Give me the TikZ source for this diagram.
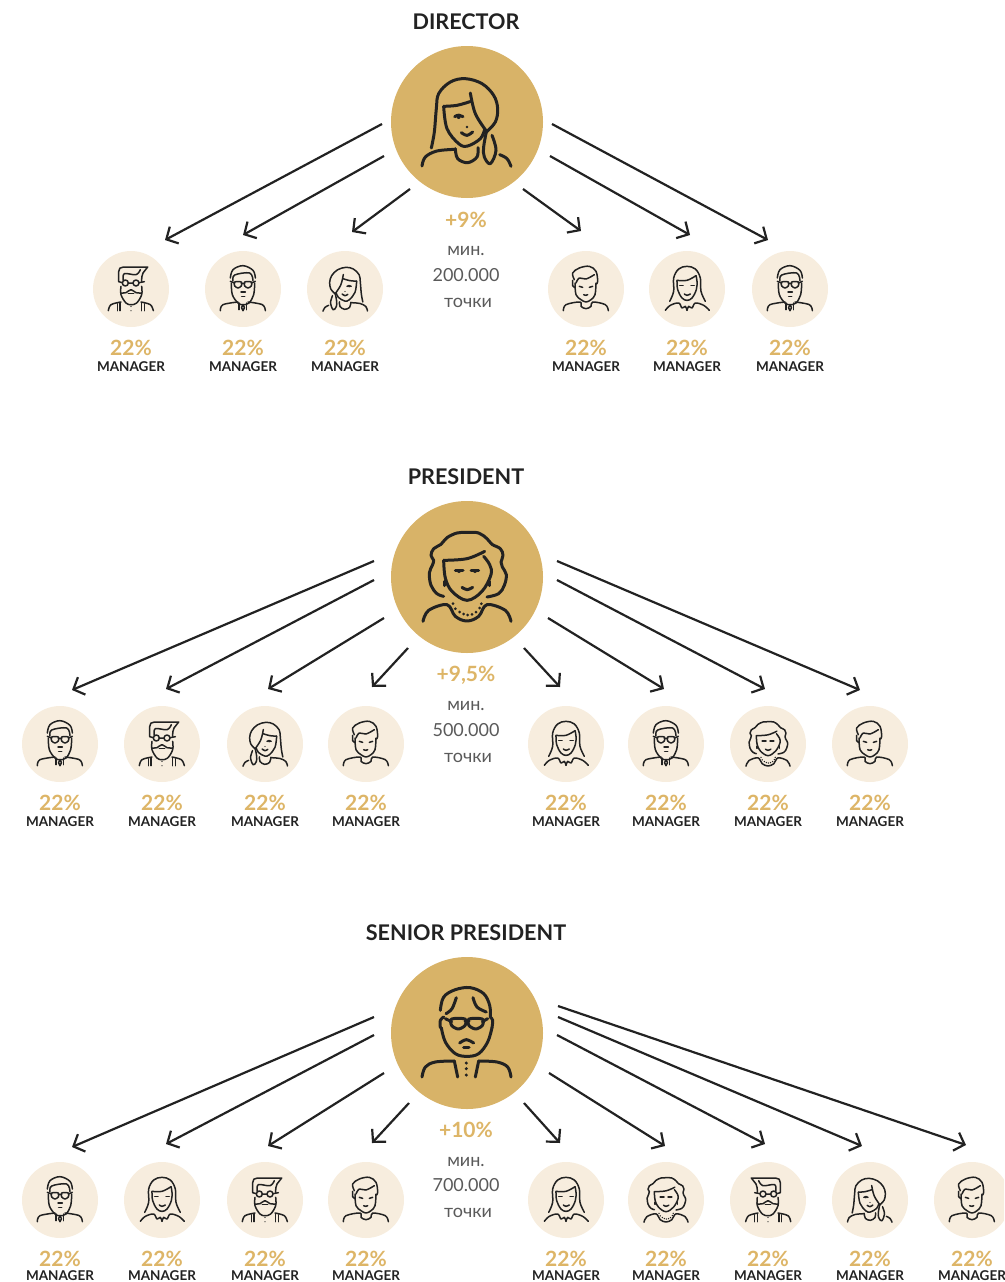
\documentclass[tikz,border=0pt]{standalone}
\usepackage{fontspec}
\setmainfont{Lato}
\usetikzlibrary{arrows.meta}
\definecolor{goldbig}{HTML}{D8B368}
\definecolor{goldtext}{HTML}{DDB567}
\definecolor{cream}{HTML}{F7EDDE}
\definecolor{ink}{HTML}{222222}
\definecolor{greytext}{HTML}{5A5A5A}
\newcommand\cv[1]{\draw[fill=none] plot[smooth,tension=.6] coordinates {#1};}
\newcommand\dotat[2]{\fill[draw=none] (#1) circle (#2);}
% centre x, centre y, half width, half height
\newcommand\lens[4]{\draw[fill=none] plot[smooth cycle,tension=.5] coordinates {({#1-#3},{#2-#4}) ({#1+#3},{#2-#4}) ({#1+#3},{#2+.3*#4}) ({#1},{#2+#4}) ({#1-#3},{#2+.3*#4})};}
\tikzset{
  hub/.style={circle,fill=goldbig,minimum size=152pt,inner sep=0pt,draw=none},
  staff/.style={circle,fill=cream,minimum size=76pt,inner sep=0pt,draw=none},
  arr/.style={draw=ink,line width=2.2pt,-{Straight Barb[length=9pt,width=19pt,line width=2.2pt]}},
  bigface/.style={scale=1/3,line width=3pt,draw=ink,fill=ink,line cap=round,line join=round},
  smallface/.style={scale=1/6,line width=1.5pt,draw=ink,fill=ink,line cap=round,line join=round},
  title/.style={font=\fontsize{21.6}{24}\selectfont\bfseries,text=ink,inner sep=0pt},
  pct/.style={font=\fontsize{21}{24}\selectfont\bfseries,text=goldtext,inner sep=0pt},
  role/.style={font=\fontsize{13.5}{16}\selectfont\bfseries,text=ink,inner sep=0pt},
  bonus/.style={font=\fontsize{21}{24}\selectfont\bfseries,text=goldtext,inner sep=0pt},
  cond/.style={font=\fontsize{18}{22}\selectfont,text=greytext,inner sep=0pt},
  ponytail/.pic={
    \cv{(-107,78)(-98,30)(-92,-40)(-85,-85)(-50,-120)(-5,-130)(45,-115)(80,-80)(92,-40)(85,0)(58,30)}
    \cv{(10,-87)(25,-25)(58,27)}
    \cv{(-70,-47)(-30,-50)(12,-62)}
    \cv{(-70,-47)(-60,20)(-25,65)(2,72)(40,50)(53,22)}
    \draw[fill=none] (-37,-16) .. controls (-28,-22) and (-20,-22) .. (-12,-16);
    \dotat{-25,-15}{6}
    \dotat{0,15}{4}
    \cv{(-17,32)(0,40)(17,30)}
    \cv{(-35,80)(-28,110)(2,122)(30,105)(33,77)}
    \cv{(-135,132)(-125,105)(-90,87)(-35,82)}
    \cv{(98,98)(120,110)(132,133)}
    \cv{(58,30)(50,75)(52,105)(70,125)(87,85)(75,40)}
  },
  curly/.pic={
    \cv{(-70,58)(-90,50)(-108,25)(-113,-12)(-104,-35)(-100,-50)(-108,-65)(-100,-85)(-78,-98)(-60,-118)(-30,-132)(0,-134)(35,-132)(60,-115)(75,-98)(100,-85)(108,-65)(102,-45)(106,-30)(118,-7)(112,25)(95,50)(60,60)}
    \cv{(-70,-50)(0,-55)(53,-77)}
    \cv{(-70,-50)(-65,3)(-45,43)(0,70)(45,43)(72,-7)(68,-37)(50,-62)}
    \draw[fill=none] (-35,-19) -- (-12,-19) (12,-19) -- (35,-19);
    \dotat{-24,-18}{6}
    \dotat{24,-18}{6}
    \cv{(-15,31)(0,38)(17,31)}
    \draw[fill=none] (-67,13) -- (-67,26) (68,13) -- (68,26);
    \foreach \px/\py in {-42/80,-35/95,-22/105,-10/111,2/114,15/112,27/105,38/93,43/80}{
      \fill[draw=none] (\px,\py) circle (4.5);
    }
    \cv{(-132,133)(-115,100)(-60,83)(-35,118)(0,132)(35,118)(60,83)(115,100)(132,133)}
  },
  oldman/.pic={
    \cv{(-80,-68)(-70,-108)(-35,-130)(10,-136)(50,-118)(68,-83)(70,-48)}
    \cv{(-32,-106)(-45,-73)(-63,-58)}
    \cv{(18,-106)(30,-78)(58,-63)}
    \cv{(-70,-48)(-80,-38)(-80,-16)}
    \cv{(70,-48)(77,-38)(75,-16)}
    \lens{-26}{-27}{20}{15}
    \lens{26}{-27}{20}{15}
    \draw[fill=none] (-6,-36) -- (6,-36) (-65,-43) -- (-46,-34) (62,-43) -- (46,-34);
    \cv{(-77,-16)(-65,27)(-35,62)(0,70)(35,62)(62,27)(75,-16)}
    \cv{(-22,30)(-2,20)(20,30)}
    \draw[fill=none] (-10,42) -- (6,42);
    \cv{(-135,132)(-125,102)(-95,87)(-38,84)}
    \draw[fill=none] (-38,84) -- (-28,132);
    \cv{(132,132)(122,102)(90,87)(35,84)}
    \draw[fill=none] (35,84) -- (25,132);
    \foreach \py in {90,107,126}{\fill[draw=none] (-2,\py) circle (5);}
  },
  hipster/.pic={
    \draw[fill=none] (-74,-46) -- (-74,-104) .. controls (-74,-122) and (-64,-132) .. (-46,-132) -- (100,-132) -- (72,-96) .. controls (66,-84) and (64,-70) .. (64,-46);
    \cv{(-46,-52)(-40,-92)(30,-86)(56,-116)}
    \draw[fill=none] (-34,-36) circle (18) (30,-36) circle (18);
    \draw[fill=none] (-16,-36) -- (12,-36) (-52,-38) -- (-74,-44) (48,-38) -- (80,-44);
    \cv{(-60,-16)(-60,34)(-30,84)(0,94)(34,84)(64,34)(64,-16)}
    \cv{(-60,24)(-30,22)(0,4)(30,22)(64,24)}
    \draw[fill=none] (-16,26) -- (16,26);
    \cv{(-136,130)(-120,94)(-60,78)}
    \cv{(134,130)(116,94)(60,78)}
    \draw[fill=none] (-80,88) -- (-80,130) (-66,84) -- (-66,130) (64,84) -- (64,130) (80,88) -- (80,130);
    \fill[draw=none] (0,104) circle (4) (0,130) circle (4);
  },
  specs/.pic={
    \cv{(-76,-66)(-60,-116)(0,-140)(60,-112)(74,-66)}
    \cv{(-60,-48)(-50,-84)(40,-96)(60,-50)}
    \lens{-30}{-24}{20}{18}
    \lens{30}{-24}{20}{18}
    \draw[fill=none] (-10,-34) -- (10,-34) (-76,-46) -- (-50,-36) (74,-46) -- (50,-36);
    \cv{(-70,-36)(-64,34)(-30,84)(0,94)(36,84)(64,34)(70,-36)}
    \draw[fill=none] (-12,18) -- (14,18) (-8,44) -- (10,44);
    \cv{(-136,130)(-120,94)(-30,78)}
    \cv{(134,130)(116,94)(30,78)}
    \draw[fill=none] (-24,84) -- (-24,124) (20,84) -- (20,124);
    \draw[fill=none] (0,94) -- (-9,112) -- (0,130) -- (9,112) -- cycle;
  },
  boy/.pic={
    \cv{(-70,-56)(-80,-96)(-40,-126)(20,-136)(60,-106)(70,-46)(62,-30)}
    \cv{(-60,-36)(-40,-66)(0,-60)(50,-86)}
    \cv{(-80,-52)(-80,-20)(-66,-10)}
    \cv{(-66,-36)(-60,34)(-30,64)(0,78)(30,64)(54,34)(60,-36)}
    \draw[fill=none] (-40,-16) -- (-20,-10) (20,-10) -- (40,-16);
    \cv{(-14,34)(0,38)(10,34)}
    \cv{(-136,130)(-120,94)(-36,78)(-30,104)(0,118)(30,104)(40,78)(116,94)(134,130)}
  },
  straight/.pic={
    \cv{(-104,74)(-80,14)(-80,-66)(-50,-120)(0,-136)(50,-120)(80,-66)(84,14)(110,74)}
    \cv{(-60,-52)(0,-52)(54,-80)}
    \cv{(-60,-52)(-56,4)(-30,54)(0,68)(30,54)(56,4)(60,-46)(54,-80)}
    \draw[fill=none] (-44,-22) -- (-24,-22) (24,-22) -- (44,-22);
    \cv{(-16,30)(0,38)(20,30)}
    \cv{(-130,128)(-100,98)(-50,84)(-30,114)(-10,104)(0,128)}
    \cv{(0,128)(10,104)(30,114)(50,84)(100,98)(134,128)}
  }
}
% name, x, y, face, extra options
\newcommand\staffer[5]{%
  \node[staff] (#1) at (#2,#3) {};
  \pic[smallface,#5] at (#1.center) {#4};
  \node[pct] (#1p) at (#2,#3+59) {22\%};
  \pgfmathsetmacro\roley{min(#3+77.6,1276)}
  \node[role] (#1m) at (#2,\roley) {MANAGER};
}
\newcommand\link[5]{%
  \coordinate (#1s) at (#2,#3);
  \coordinate (#1e) at (#4,#5);
  \draw[arr] (#1s) -- (#1e);
}
\begin{document}
\begin{tikzpicture}[x=1pt,y=-1pt]
\useasboundingbox (0,0) rectangle (1004,1282);
\clip (0,0) rectangle (1004,1282);
% ---- Director
\node[title] (t1) at (466,22) {DIRECTOR};
\node[hub] (h1) at (467,122) {};
\pic[bigface] at (h1.center) {ponytail};
\node[bonus] (b1) at (466,220) {+9\%};
\node[cond] (c1a) at (466,251) {мин.};
\node[cond] (c1b) at (466,275) {200.000};
\node[cond] (c1c) at (468,303) {точки};
\staffer{a1}{131}{289}{hipster}{}
\staffer{a2}{243}{289}{specs}{}
\staffer{a3}{345}{289}{ponytail}{xscale=-1}
\staffer{a4}{586}{289}{boy}{}
\staffer{a5}{687}{289}{straight}{}
\staffer{a6}{790}{289}{specs}{}
\link{l11}{382}{124}{165}{240}
\link{l12}{384}{156}{243}{235}
\link{l13}{410}{189}{352}{232}
\link{l14}{523}{189}{581}{231}
\link{l15}{550}{156}{690}{235}
\link{l16}{552}{124}{768}{240}
% ---- President
\node[title] (t2) at (466,477) {PRESIDENT};
\node[hub] (h2) at (467,577) {};
\pic[bigface] at (h2.center) {curly};
\node[bonus] (b2) at (466,675) {+9,5\%};
\node[cond] (c2a) at (466,706) {мин.};
\node[cond] (c2b) at (466,730) {500.000};
\node[cond] (c2c) at (468,758) {точки};
\staffer{p1}{60}{744}{specs}{}
\staffer{p2}{162}{744}{hipster}{}
\staffer{p3}{265}{744}{ponytail}{xscale=-1}
\staffer{p4}{366}{744}{boy}{}
\staffer{p5}{566}{744}{straight}{}
\staffer{p6}{666}{744}{specs}{}
\staffer{p7}{768}{744}{curly}{}
\staffer{p8}{870}{744}{boy}{}
\link{l21}{374}{561}{72}{690}
\link{l22}{374}{580}{166}{689}
\link{l23}{384}{618}{268}{689}
\link{l24}{408}{648}{372}{687}
\link{l25}{524}{648}{560}{687}
\link{l26}{548}{618}{664}{689}
\link{l27}{557}{580}{765}{689}
\link{l28}{557}{561}{860}{690}
% ---- Senior president
\node[title] (t3) at (466,933) {SENIOR PRESIDENT};
\node[hub] (h3) at (467,1033) {};
\pic[bigface] at (h3.center) {oldman};
\node[bonus] (b3) at (466,1130) {+10\%};
\node[cond] (c3a) at (466,1162) {мин.};
\node[cond] (c3b) at (466,1185) {700.000};
\node[cond] (c3c) at (468,1213) {точки};
\staffer{s1}{60}{1200}{specs}{}
\staffer{s2}{162}{1200}{straight}{}
\staffer{s3}{265}{1200}{hipster}{}
\staffer{s4}{366}{1200}{boy}{}
\staffer{s5}{566}{1200}{straight}{}
\staffer{s6}{666}{1200}{curly}{}
\staffer{s7}{768}{1200}{hipster}{xscale=-1}
\staffer{s8}{870}{1200}{ponytail}{}
\staffer{s9}{972}{1200}{boy}{}
\link{l31}{374}{1017}{72}{1147}
\link{l32}{374}{1035}{166}{1144}
\link{l33}{384}{1073}{268}{1146}
\link{l34}{409}{1103}{372}{1143}
\link{l35}{524}{1103}{560}{1143}
\link{l36}{549}{1073}{665}{1146}
\link{l37}{557}{1035}{765}{1144}
\link{l38}{558}{1017}{862}{1146}
\link{l39}{558}{1006}{966}{1145}
\end{tikzpicture}
\end{document}
